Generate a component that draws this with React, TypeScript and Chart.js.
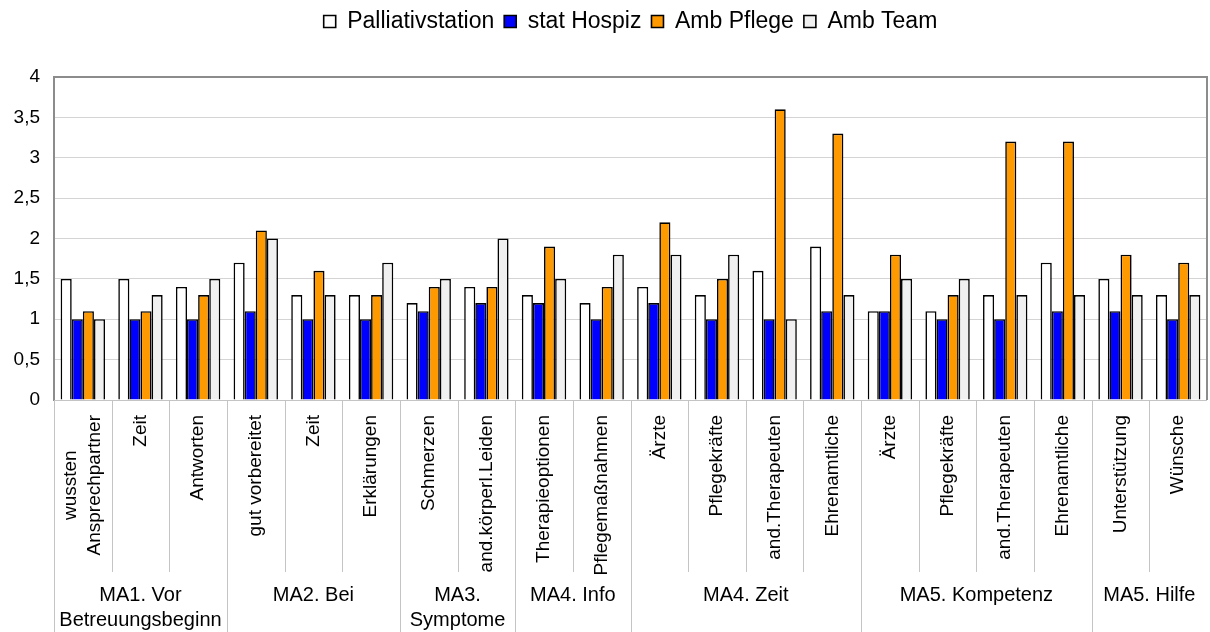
import React, { useEffect, useRef } from "react";
import { Chart, registerables } from "chart.js";

Chart.register(...registerables);

const FONT = '"Liberation Sans", Arial, Helvetica, sans-serif';

// Category labels (multi-line where the original wraps)
const categories: string[][] = [
  ["wussten", "Ansprechpartner"],
  ["Zeit"],
  ["Antworten"],
  ["gut vorbereitet"],
  ["Zeit"],
  ["Erklärungen"],
  ["Schmerzen"],
  ["and.körperl.Leiden"],
  ["Therapieoptionen"],
  ["Pflegemaßnahmen"],
  ["Ärzte"],
  ["Pflegekräfte"],
  ["and.Therapeuten"],
  ["Ehrenamtliche"],
  ["Ärzte"],
  ["Pflegekräfte"],
  ["and.Therapeuten"],
  ["Ehrenamtliche"],
  ["Unterstützung"],
  ["Wünsche"],
];

const groupLabels: string[][] = [
  ["MA1. Vor", "Betreuungsbeginn"],
  ["MA2. Bei"],
  ["MA3.", "Symptome"],
  ["MA4. Info"],
  ["MA4. Zeit"],
  ["MA5. Kompetenz"],
  ["MA5. Hilfe"],
];
const groupSizes: number[] = [3, 3, 2, 2, 4, 4, 2];

const seriesNames: string[] = ["Palliativstation", "stat Hospiz", "Amb Pflege", "Amb Team"];

const palliativstation: number[] = [1.5, 1.5, 1.4, 1.7, 1.3, 1.3, 1.2, 1.4, 1.3, 1.2, 1.4, 1.3, 1.6, 1.9, 1.1, 1.1, 1.3, 1.7, 1.5, 1.3];
const statHospiz: number[] = [1.0, 1.0, 1.0, 1.1, 1.0, 1.0, 1.1, 1.2, 1.2, 1.0, 1.2, 1.0, 1.0, 1.1, 1.1, 1.0, 1.0, 1.1, 1.1, 1.0];
const ambPflege: number[] = [1.1, 1.1, 1.3, 2.1, 1.6, 1.3, 1.4, 1.4, 1.9, 1.4, 2.2, 1.5, 3.6, 3.3, 1.8, 1.3, 3.2, 3.2, 1.8, 1.7];
const ambTeam: number[] = [1.0, 1.3, 1.5, 2.0, 1.3, 1.7, 1.5, 2.0, 1.5, 1.8, 1.8, 1.8, 1.0, 1.3, 1.5, 1.5, 1.3, 1.3, 1.3, 1.3];

const seriesValues: number[][] = [palliativstation, statHospiz, ambPflege, ambTeam];
const seriesColors: string[] = ["#ffffff", "#0000ff", "#ff9900", "#f0f0f0"];

const yTicks = { min: 0, max: 4, step: 0.5 };

const W = 1210;
const H = 632;

const groupedAxisPlugin = {
  id: "groupedAxis",
  beforeLayout(chart: any) {
    const leg = chart.legend;
    if (leg && !leg._patchedFit) {
      const orig = leg.fit;
      leg.fit = function () {
        orig.call(this);
        this.height += 34;
      };
      leg._patchedFit = true;
    }
  },
  beforeDraw(chart: any) {
    const leg = chart.legend;
    const ca = chart.chartArea;
    if (leg && ca) {
      leg.left = ca.left;
      leg.right = ca.right;
      leg.width = ca.right - ca.left;
    }
  },
  afterDraw(chart: any) {
    const { ctx, chartArea: ca, scales } = chart;
    const x = scales.x;
    const n = categories.length;
    const step = x.getPixelForValue(1) - x.getPixelForValue(0);
    const boundary = (i: number) => x.getPixelForValue(i) - step / 2;

    ctx.save();
    // bottom box lines
    ctx.strokeStyle = "#c4c4c4";
    ctx.lineWidth = 1;
    ctx.beginPath();
    ctx.moveTo(ca.left, Math.round(ca.bottom) + 0.5);
    ctx.lineTo(ca.right, Math.round(ca.bottom) + 0.5);
    ctx.stroke();

    const groupStarts = new Set<number>();
    let acc = 0;
    groupSizes.forEach((s) => {
      groupStarts.add(acc);
      acc += s;
    });
    for (let i = 0; i < n; i++) {
      const bx = Math.round(boundary(i)) + 0.5;
      const y2 = groupStarts.has(i) ? H : 572;
      ctx.beginPath();
      ctx.moveTo(bx, ca.bottom);
      ctx.lineTo(bx, y2);
      ctx.stroke();
    }

    // frame top & right
    ctx.strokeStyle = "#8c8c8c";
    ctx.lineWidth = 2;
    ctx.beginPath();
    ctx.moveTo(ca.left, ca.top);
    ctx.lineTo(ca.right, ca.top);
    ctx.lineTo(ca.right, ca.bottom);
    ctx.stroke();

    // category labels (rotated)
    ctx.fillStyle = "#000";
    ctx.font = `19px ${FONT}`;
    ctx.textBaseline = "middle";
    ctx.textAlign = "center";
    const lh = 24;
    for (let i = 0; i < n; i++) {
      const lines = categories[i];
      const cx = x.getPixelForValue(i);
      const bw = Math.max(...lines.map((l) => ctx.measureText(l).width));
      ctx.save();
      ctx.translate(cx, 415);
      ctx.rotate(-Math.PI / 2);
      lines.forEach((l, k) => {
        const off = (k - (lines.length - 1) / 2) * lh;
        ctx.fillText(l, -bw / 2, off);
      });
      ctx.restore();
    }

    // group labels
    ctx.font = `20px ${FONT}`;
    ctx.textAlign = "center";
    ctx.textBaseline = "middle";
    let start = 0;
    groupSizes.forEach((s, g) => {
      const x1 = boundary(start);
      const x2 = boundary(start + s);
      const cx = (x1 + x2) / 2;
      groupLabels[g].forEach((l, k) => {
        ctx.fillText(l, cx, 595 + k * 25);
      });
      start += s;
    });
    ctx.restore();
  },
};

export default function App() {
  const ref = useRef<HTMLCanvasElement | null>(null);

  useEffect(() => {
    if (!ref.current) return;
    const chart = new Chart(ref.current, {
      type: "bar",
      data: {
        labels: categories.map((c) => c.join(" ")),
        datasets: seriesNames.map((name, i) => ({
          label: name,
          data: seriesValues[i],
          backgroundColor: seriesColors[i],
          borderColor: "#000000",
          borderWidth: 1.6,
          categoryPercentage: 0.77,
          barPercentage: 1.0,
        })),
      },
      options: {
        animation: false,
        responsive: true,
        maintainAspectRatio: false,
        layout: { padding: { left: 0, right: 3, top: 0, bottom: 0 } },
        plugins: {
          legend: {
            display: true,
            position: "top",
            labels: {
              boxWidth: 12,
              boxHeight: 12,
              padding: 10,
              color: "#000",
              font: { family: FONT, size: 23 },
            },
          },
          tooltip: { enabled: false },
        },
        scales: {
          x: {
            display: true,
            ticks: { display: false },
            grid: { display: false },
            border: { display: false },
            afterFit: (scale: any) => {
              scale.height = 232;
            },
          },
          y: {
            min: yTicks.min,
            max: yTicks.max,
            ticks: {
              stepSize: yTicks.step,
              color: "#000",
              padding: 14,
              font: { family: FONT, size: 19 },
              callback: (v: any) => String(v).replace(".", ","),
            },
            grid: { color: "#d4d4d4", drawTicks: false, lineWidth: 1 },
            border: { display: true, color: "#8c8c8c", width: 2 },
            afterFit: (scale: any) => {
              scale.width = 54;
            },
          },
        },
      },
      plugins: [groupedAxisPlugin],
    } as any);
    return () => chart.destroy();
  }, []);

  return (
    <div style={{ position: "absolute", left: 0, top: 0, width: W, height: H, background: "#fff" }}>
      <canvas ref={ref} />
    </div>
  );
}
